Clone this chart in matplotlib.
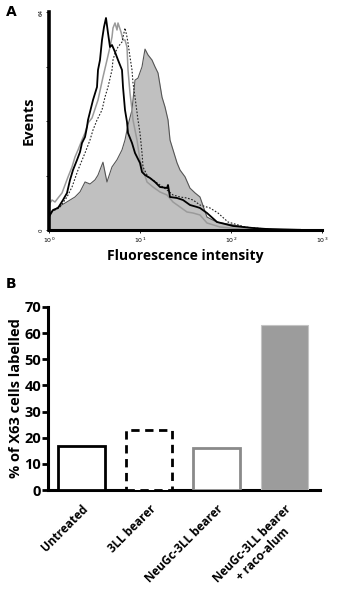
import numpy as np
import matplotlib.pyplot as plt

plt.rcParams['font.family'] = ['Open Sans', 'DejaVu Sans']

# ---- Panel A: flow cytometry histograms (x = log10 intensity, y = events)
grey_logx = [0.0, 0.011, 0.088, 0.176, 0.231, 0.286, 0.341, 0.396, 0.451, 0.505,
             0.538, 0.593, 0.637, 0.692, 0.747, 0.802, 0.835, 0.868, 0.912, 0.945,
             0.978, 1.022, 1.055, 1.088, 1.132, 1.165, 1.198, 1.242, 1.275, 1.308,
             1.330, 1.407, 1.440, 1.495, 1.549, 1.604, 1.659, 1.736, 1.846, 1.956,
             2.209, 2.396, 2.681, 3.0]
grey_events = [3.8, 5.0, 6.5, 7.9, 8.8, 9.7, 11.2, 14.1, 13.5, 14.7,
               16.1, 19.9, 14.1, 18.5, 20.6, 23.5, 26.4, 30.8, 35.2, 44.0,
               44.6, 47.9, 53.1, 51.4, 49.9, 47.9, 46.1, 39.0, 36.1, 32.3,
               26.4, 19.7, 17.6, 15.6, 12.3, 10.9, 9.7, 3.8, 2.3, 1.8,
               0.6, 0.3, 0.15, 0.0]

black_px = [49, 50, 53, 58, 63, 67, 70, 73, 77, 80, 82, 85, 87, 88, 93, 97, 98, 100,
            102, 104, 106, 108, 110, 112, 115, 118, 122, 123, 125, 127, 128, 132,
            135, 140, 142, 145, 150, 155, 160, 167, 168, 170, 177, 183, 190, 197,
            200, 207, 217, 233, 253, 267, 283, 300]
black_py = [217, 215, 210, 208, 200, 193, 180, 170, 160, 152, 143, 137, 127, 120,
            100, 87, 70, 60, 40, 27, 18, 33, 47, 45, 52, 60, 70, 87, 110, 122, 133,
            143, 153, 163, 172, 175, 178, 182, 187, 188, 185, 197, 198, 200, 205,
            207, 208, 213, 222, 226, 228, 229, 229.5, 229.8]

silver_px = [49, 50, 52, 55, 58, 62, 65, 68, 72, 75, 78, 82, 85, 88, 92, 98, 103, 107,
             110, 112, 113, 115, 117, 118, 121, 123, 125, 127, 128, 130, 132, 133,
             137, 140, 147, 153, 160, 167, 173, 180, 187, 193, 200, 207, 220, 240, 270]
silver_py = [208, 203, 200, 202, 198, 193, 185, 177, 167, 157, 150, 140, 133, 123,
             118, 100, 77, 60, 47, 37, 28, 23, 30, 23, 32, 40, 40, 47, 70, 93, 110,
             120, 140, 160, 182, 187, 192, 195, 202, 207, 212, 213, 215, 223, 227,
             229, 229.7]

dotted_px = [49, 50, 55, 60, 67, 72, 78, 85, 90, 93, 97, 102, 105, 108, 112, 113, 115,
             118, 122, 125, 127, 128, 130, 132, 133, 135, 138, 140, 142, 143, 148,
             153, 160, 167, 173, 180, 187, 193, 200, 210, 218, 228, 245, 255, 278]
dotted_py = [214, 212, 210, 207, 197, 187, 170, 153, 140, 130, 120, 110, 97, 87, 70,
             60, 53, 47, 42, 28, 37, 43, 57, 70, 83, 97, 120, 133, 153, 167, 177, 180,
             185, 190, 195, 197, 198, 200, 205, 208, 213, 222, 227, 228, 230]

# ---- Panel B: bar chart
groups = ['Untreated', '3LL bearer', 'NeuGc-3LL bearer', 'NeuGc-3LL bearer\n+ raco-alum']
pct_labelled = [17, 23, 16.2, 63]


def px_to_logx(px):
    return (np.array(px) - 49) / 91.0


def py_to_events(py):
    return (230 - np.array(py)) / 3.406


fig = plt.figure(figsize=(3.39, 5.95), dpi=100)

# Panel A
axA = fig.add_axes([49 / 339, 1 - 230 / 595, 273 / 339, 218 / 595])
gx = 10 ** np.array(grey_logx)
axA.fill_between(gx, grey_events, 0, color='#c0c0c0', lw=0)
axA.plot(gx, grey_events, color='#555555', lw=0.8)
axA.plot(10 ** px_to_logx(silver_px), py_to_events(silver_py), color='#9a9a9a', lw=1.1)
axA.plot(10 ** px_to_logx(dotted_px), py_to_events(dotted_py), color='#222222', lw=0.8,
         ls=(0, (1.5, 1.5)))
axA.plot(10 ** px_to_logx(black_px), py_to_events(black_py), color='black', lw=1.3)

axA.set_xscale('log')
axA.set_xlim(1, 1000)
axA.set_ylim(0, 64)
axA.set_yticks([0, 16, 32, 48, 64])
axA.set_yticklabels(['0', '', '', '', '64'], rotation=90, va='center', fontsize=4,
                    family='DejaVu Sans')
axA.set_xticks([1, 10, 100, 1000])
axA.set_xticklabels(['$10^0$', '$10^1$', '$10^2$', '$10^3$'], fontsize=4.5)
axA.minorticks_off()
axA.tick_params(axis='both', length=2, width=0.6, pad=2)
for s in ['top', 'right']:
    axA.spines[s].set_visible(False)
axA.spines['left'].set_linewidth(2.6)
axA.spines['bottom'].set_linewidth(2.2)
axA.set_xlabel('Fluorescence intensity', fontsize=10, fontweight='bold', labelpad=3)
axA.set_ylabel('Events', fontsize=10.5, fontweight='bold', labelpad=2)

# Panel B
axB = fig.add_axes([48 / 339, 1 - 490 / 595, 272 / 339, 183 / 595])
x = np.arange(len(groups))
bars = axB.bar(x, pct_labelled, width=0.69, zorder=3)
styles = [dict(fc='white', ec='black', ls='-', lw=2.0),
          dict(fc='white', ec='black', ls=(0, (3, 2)), lw=2.0),
          dict(fc='white', ec='#8a8a8a', ls='-', lw=2.0),
          dict(fc='#9c9c9c', ec='#c4c4c4', ls='-', lw=0.8)]
for b, st in zip(bars, styles):
    b.set_facecolor(st['fc'])
    b.set_edgecolor(st['ec'])
    b.set_linestyle(st['ls'])
    b.set_linewidth(st['lw'])

axB.set_xlim(-0.49, 3.52)
axB.set_ylim(0, 70)
axB.set_yticks(np.arange(0, 71, 10))
axB.set_xticks(x)
axB.set_xticklabels(groups, rotation=45, ha='right', rotation_mode='anchor',
                    fontsize=8.5, fontweight='bold', multialignment='center')
axB.tick_params(axis='x', length=0, pad=9)
axB.tick_params(axis='y', length=4, width=2, labelsize=10.5, pad=1)
for lab in axB.get_yticklabels():
    lab.set_fontweight('bold')
for s in ['top', 'right']:
    axB.spines[s].set_visible(False)
axB.spines['left'].set_linewidth(2.2)
axB.spines['bottom'].set_linewidth(2.2)
axB.set_ylabel('% of X63 cells labelled', fontsize=10.5, fontweight='bold', labelpad=1)

fig.text(6 / 339, 1 - 12 / 595, 'A', fontsize=10, fontweight='bold', family='DejaVu Sans',
         va='center')
fig.text(6 / 339, 1 - 284 / 595, 'B', fontsize=10, fontweight='bold', family='DejaVu Sans',
         va='center')

fig.savefig('out.png', dpi=100)
